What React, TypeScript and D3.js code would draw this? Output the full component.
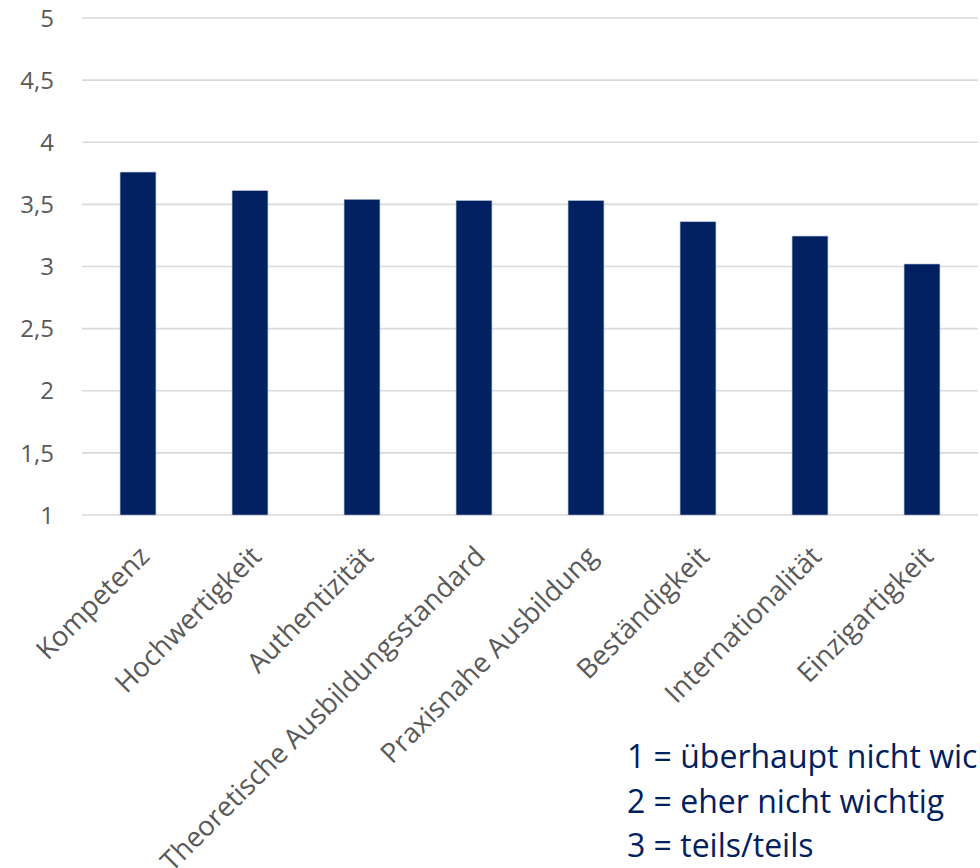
import React from 'react';
import * as d3 from 'd3';

// chart data
const categories = [
  'Kompetenz',
  'Hochwertigkeit',
  'Authentizität',
  'Theoretische Ausbildungsstandard',
  'Praxisnahe Ausbildung',
  'Beständigkeit',
  'Internationalität',
  'Einzigartigkeit',
];
const values = [3.76, 3.61, 3.54, 3.53, 3.53, 3.36, 3.245, 3.02];
const yTicks = [1, 1.5, 2, 2.5, 3, 3.5, 4, 4.5, 5];
const noteLines = [
  '1 = überhaupt nicht wichtig',
  '2 = eher nicht wichtig',
  '3 = teils/teils',
];

const W = 980;
const H = 868;
const FONT = '"Open Sans", sans-serif';

const App = () => {
  const margin = { top: 18, left: 82, right: 2 };
  const bottomY = 515;

  const x = d3.scaleBand()
    .domain(categories)
    .range([margin.left, W - margin.right])
    .paddingInner(0.68)
    .paddingOuter(0.34);

  const y = d3.scaleLinear().domain([1, 5]).range([bottomY, margin.top]);
  const fmt = (v: number) => String(v).replace('.', ',');

  return (
    <div>
      <style>{`body{margin:0}`}</style>
      <svg width={W} height={H} style={{ display: 'block', background: '#fff' }}>
        {/* gridlines */}
        <g>
          {yTicks.map(t => (
            <line key={t} x1={margin.left} x2={W - margin.right} y1={y(t)} y2={y(t)}
              stroke="#d9d9d9" strokeWidth={1.6} />
          ))}
        </g>
        {/* y labels */}
        <g fontFamily={FONT} fontSize={24} fill="#595959" textAnchor="end">
          {yTicks.map(t => (
            <text key={t} x={54} y={y(t)} dy="0.36em">{fmt(t)}</text>
          ))}
        </g>
        {/* bars */}
        <g>
          {categories.map((c, i) => (
            <rect key={c} x={x(c)} y={y(values[i])} width={x.bandwidth()}
              height={y(1) - y(values[i])} fill="#002060" stroke="#a9b4cc" strokeWidth={0.6} />
          ))}
        </g>
        {/* x labels */}
        <g fontFamily={FONT} fontSize={27.5} fill="#595959" textAnchor="end">
          {categories.map(c => {
            const cx = (x(c) as number) + x.bandwidth() / 2 + 13;
            const cy = 558;
            return (
              <text key={c} x={cx} y={cy} transform={`rotate(-45 ${cx} ${cy})`}>{c}</text>
            );
          })}
        </g>
        {/* note */}
        <g fontFamily={FONT} fontSize={32} fill="#002060">
          {noteLines.map((l, i) => (
            <text key={l} x={627} y={768 + i * 44.5}>{l}</text>
          ))}
        </g>
      </svg>
    </div>
  );
};

export default App;
